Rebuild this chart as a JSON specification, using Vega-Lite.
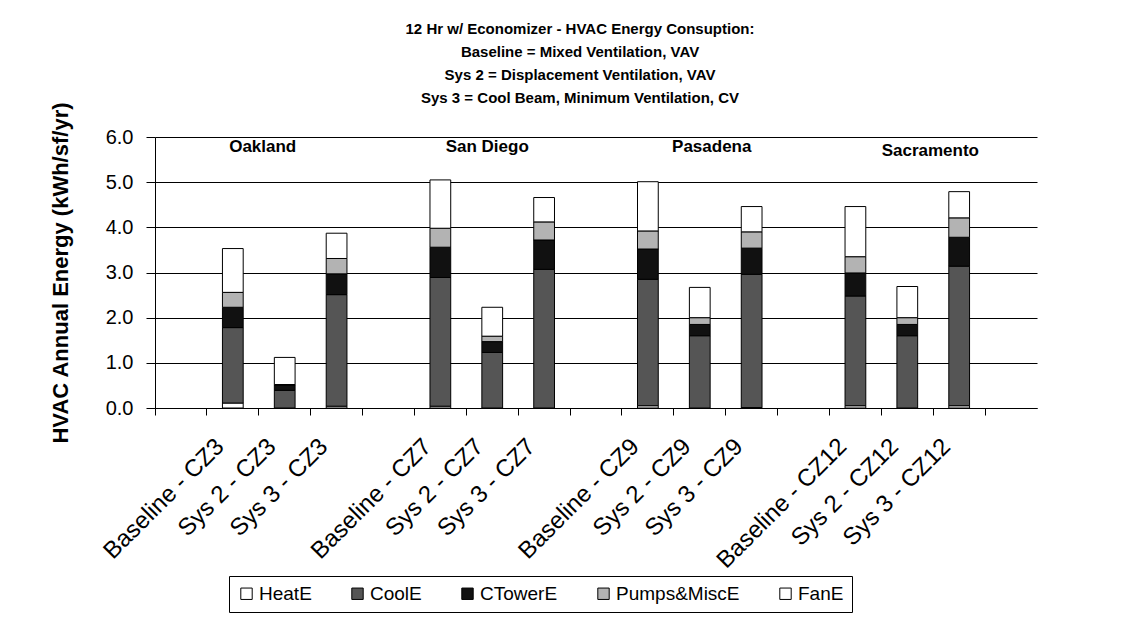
{
  "$schema": "https://vega.github.io/schema/vega-lite/v6.json",
  "width": 882,
  "height": 271,
  "autosize": {"type": "none"},
  "padding": {"left": 155, "top": 137, "right": 102, "bottom": 213},
  "background": "white",
  "config": {
    "font": "Liberation Sans",
    "view": {"stroke": null},
    "axis": {"labelColor": "black", "titleColor": "black", "domainColor": "black", "tickColor": "black"}
  },
  "title": {
    "text": ["12 Hr w/ Economizer - HVAC Energy Consuption:", "Baseline  = Mixed Ventilation, VAV", "Sys 2 = Displacement Ventilation, VAV", "Sys 3 = Cool Beam, Minimum Ventilation, CV"],
    "fontSize": 15,
    "fontWeight": "bold",
    "lineHeight": 23,
    "anchor": "middle",
    "dx": -16,
    "offset": -4,
    "color": "black"
  },
  "layer": [
    {
      "data": {
        "values": [
          {"system": "Baseline - CZ3", "component": "HeatE", "energy": 0.11},
          {"system": "Baseline - CZ3", "component": "CoolE", "energy": 1.67},
          {"system": "Baseline - CZ3", "component": "CTowerE", "energy": 0.45},
          {"system": "Baseline - CZ3", "component": "Pumps&MiscE", "energy": 0.33},
          {"system": "Baseline - CZ3", "component": "FanE", "energy": 0.97},
          {"system": "Sys 2 - CZ3", "component": "CoolE", "energy": 0.39},
          {"system": "Sys 2 - CZ3", "component": "CTowerE", "energy": 0.12},
          {"system": "Sys 2 - CZ3", "component": "Pumps&MiscE", "energy": 0.01},
          {"system": "Sys 2 - CZ3", "component": "FanE", "energy": 0.6},
          {"system": "Sys 3 - CZ3", "component": "HeatE", "energy": 0.04},
          {"system": "Sys 3 - CZ3", "component": "CoolE", "energy": 2.47},
          {"system": "Sys 3 - CZ3", "component": "CTowerE", "energy": 0.46},
          {"system": "Sys 3 - CZ3", "component": "Pumps&MiscE", "energy": 0.34},
          {"system": "Sys 3 - CZ3", "component": "FanE", "energy": 0.56},
          {"system": "Baseline - CZ7", "component": "HeatE", "energy": 0.04},
          {"system": "Baseline - CZ7", "component": "CoolE", "energy": 2.85},
          {"system": "Baseline - CZ7", "component": "CTowerE", "energy": 0.67},
          {"system": "Baseline - CZ7", "component": "Pumps&MiscE", "energy": 0.42},
          {"system": "Baseline - CZ7", "component": "FanE", "energy": 1.07},
          {"system": "Sys 2 - CZ7", "component": "CoolE", "energy": 1.23},
          {"system": "Sys 2 - CZ7", "component": "CTowerE", "energy": 0.24},
          {"system": "Sys 2 - CZ7", "component": "Pumps&MiscE", "energy": 0.12},
          {"system": "Sys 2 - CZ7", "component": "FanE", "energy": 0.64},
          {"system": "Sys 3 - CZ7", "component": "CoolE", "energy": 3.07},
          {"system": "Sys 3 - CZ7", "component": "CTowerE", "energy": 0.65},
          {"system": "Sys 3 - CZ7", "component": "Pumps&MiscE", "energy": 0.4},
          {"system": "Sys 3 - CZ7", "component": "FanE", "energy": 0.54},
          {"system": "Baseline - CZ9", "component": "HeatE", "energy": 0.05},
          {"system": "Baseline - CZ9", "component": "CoolE", "energy": 2.8},
          {"system": "Baseline - CZ9", "component": "CTowerE", "energy": 0.67},
          {"system": "Baseline - CZ9", "component": "Pumps&MiscE", "energy": 0.4},
          {"system": "Baseline - CZ9", "component": "FanE", "energy": 1.09},
          {"system": "Sys 2 - CZ9", "component": "CoolE", "energy": 1.6},
          {"system": "Sys 2 - CZ9", "component": "CTowerE", "energy": 0.25},
          {"system": "Sys 2 - CZ9", "component": "Pumps&MiscE", "energy": 0.15},
          {"system": "Sys 2 - CZ9", "component": "FanE", "energy": 0.67},
          {"system": "Sys 3 - CZ9", "component": "HeatE", "energy": 0.01},
          {"system": "Sys 3 - CZ9", "component": "CoolE", "energy": 2.95},
          {"system": "Sys 3 - CZ9", "component": "CTowerE", "energy": 0.58},
          {"system": "Sys 3 - CZ9", "component": "Pumps&MiscE", "energy": 0.36},
          {"system": "Sys 3 - CZ9", "component": "FanE", "energy": 0.56},
          {"system": "Baseline - CZ12", "component": "HeatE", "energy": 0.05},
          {"system": "Baseline - CZ12", "component": "CoolE", "energy": 2.43},
          {"system": "Baseline - CZ12", "component": "CTowerE", "energy": 0.51},
          {"system": "Baseline - CZ12", "component": "Pumps&MiscE", "energy": 0.36},
          {"system": "Baseline - CZ12", "component": "FanE", "energy": 1.11},
          {"system": "Sys 2 - CZ12", "component": "CoolE", "energy": 1.6},
          {"system": "Sys 2 - CZ12", "component": "CTowerE", "energy": 0.25},
          {"system": "Sys 2 - CZ12", "component": "Pumps&MiscE", "energy": 0.15},
          {"system": "Sys 2 - CZ12", "component": "FanE", "energy": 0.69},
          {"system": "Sys 3 - CZ12", "component": "HeatE", "energy": 0.05},
          {"system": "Sys 3 - CZ12", "component": "CoolE", "energy": 3.09},
          {"system": "Sys 3 - CZ12", "component": "CTowerE", "energy": 0.64},
          {"system": "Sys 3 - CZ12", "component": "Pumps&MiscE", "energy": 0.43},
          {"system": "Sys 3 - CZ12", "component": "FanE", "energy": 0.58}
        ]
      },
      "transform": [
        {"calculate": "indexof(['HeatE','CoolE','CTowerE','Pumps&MiscE','FanE'], datum.component)", "as": "stackOrder"}
      ],
      "mark": {"type": "bar", "width": {"band": 0.4}, "stroke": "black", "strokeWidth": 1},
      "encoding": {
        "x": {
          "field": "system",
          "type": "nominal",
          "sort": null,
          "scale": {
            "domain": ["_0", "Baseline - CZ3", "Sys 2 - CZ3", "Sys 3 - CZ3", "_1", "Baseline - CZ7", "Sys 2 - CZ7", "Sys 3 - CZ7", "_2", "Baseline - CZ9", "Sys 2 - CZ9", "Sys 3 - CZ9", "_3", "Baseline - CZ12", "Sys 2 - CZ12", "Sys 3 - CZ12", "_4"],
            "paddingInner": 0,
            "paddingOuter": 0
          },
          "axis": {
            "title": null,
            "bandPosition": 0,
            "labelAngle": -45,
            "labelOffset": -21,
            "labelPadding": 19,
            "labelFontSize": 24,
            "labelOverlap": false,
            "labelExpr": "indexof(datum.value, '_') == 0 ? '' : datum.value",
            "tickSize": 7,
            "grid": false
          }
        },
        "y": {
          "field": "energy",
          "type": "quantitative",
          "stack": "zero",
          "scale": {"domain": [0, 6], "nice": false},
          "axis": {
            "title": "HVAC Annual Energy (kWh/sf/yr)",
            "titleFontSize": 22,
            "titleFontWeight": "bold",
            "titlePadding": 33,
            "values": [0, 1, 2, 3, 4, 5, 6],
            "format": ".1f",
            "labelFontSize": 20,
            "labelPadding": 13,
            "tickSize": 9,
            "grid": true,
            "gridColor": "black",
            "gridOpacity": 1,
            "gridWidth": 1
          }
        },
        "color": {
          "field": "component",
          "type": "nominal",
          "scale": {
            "domain": ["HeatE", "CoolE", "CTowerE", "Pumps&MiscE", "FanE"],
            "range": ["#ffffff", "#555555", "#111111", "#b3b3b3", "#ffffff"]
          },
          "legend": {
            "title": null,
            "orient": "none",
            "legendX": 74,
            "legendY": 439,
            "direction": "horizontal",
            "strokeColor": "black",
            "fillColor": "white",
            "padding": 8,
            "symbolType": "square",
            "symbolSize": 130,
            "symbolStrokeColor": "black",
            "symbolStrokeWidth": 1,
            "symbolOpacity": 1,
            "labelFontSize": 19,
            "labelColor": "black",
            "labelOffset": 3,
            "columnPadding": 36
          }
        },
        "order": {"field": "stackOrder", "type": "quantitative"}
      }
    },
    {
      "data": {"values": [{"city": "Oakland", "system": "Sys 2 - CZ3", "pos": 5.77}]},
      "mark": {"type": "text", "fontSize": 17, "fontWeight": "bold", "color": "black", "baseline": "middle", "dx": -22},
      "encoding": {"x": {"field": "system", "type": "nominal"}, "y": {"field": "pos", "type": "quantitative"}, "text": {"field": "city"}}
    },
    {
      "data": {"values": [{"city": "San Diego", "system": "Sys 2 - CZ7", "pos": 5.77}]},
      "mark": {"type": "text", "fontSize": 17, "fontWeight": "bold", "color": "black", "baseline": "middle", "dx": -5},
      "encoding": {"x": {"field": "system", "type": "nominal"}, "y": {"field": "pos", "type": "quantitative"}, "text": {"field": "city"}}
    },
    {
      "data": {"values": [{"city": "Pasadena", "system": "Sys 2 - CZ9", "pos": 5.77}]},
      "mark": {"type": "text", "fontSize": 17, "fontWeight": "bold", "color": "black", "baseline": "middle", "dx": 12},
      "encoding": {"x": {"field": "system", "type": "nominal"}, "y": {"field": "pos", "type": "quantitative"}, "text": {"field": "city"}}
    },
    {
      "data": {"values": [{"city": "Sacramento", "system": "Sys 2 - CZ12", "pos": 5.7}]},
      "mark": {"type": "text", "fontSize": 17, "fontWeight": "bold", "color": "black", "baseline": "middle", "dx": 23},
      "encoding": {"x": {"field": "system", "type": "nominal"}, "y": {"field": "pos", "type": "quantitative"}, "text": {"field": "city"}}
    }
  ]
}
